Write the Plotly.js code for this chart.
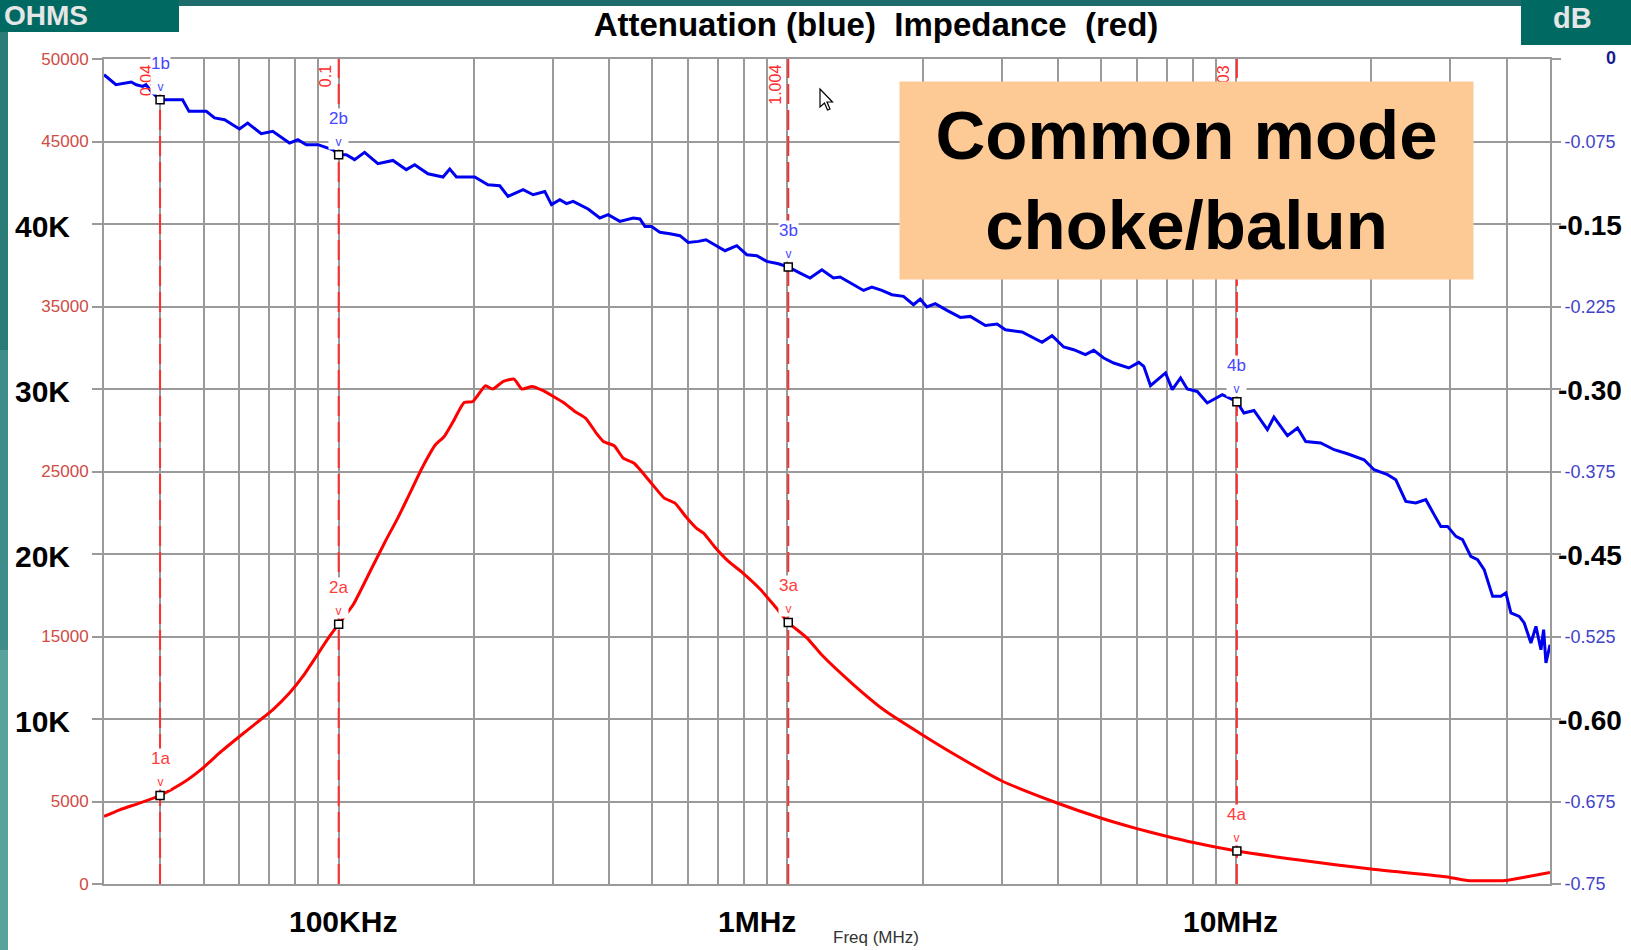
<!DOCTYPE html>
<html>
<head>
<meta charset="utf-8">
<script src="https://cdn.plot.ly/plotly-3.0.1.min.js"></script>
<style>html,body{margin:0;padding:0;background:#fff;}#chart{width:1631px;height:950px;}</style>
</head>
<body>
<div id="chart"></div>
<script>
// ---------- data ----------
const freqBlue = [0.0300,0.0319,0.0345,0.0354,0.0366,0.0372,0.0385,0.0400,0.0449,0.0464,0.0507,0.0529,0.0557,0.0601,0.0627,0.0672,0.0713,0.0777,0.0811,0.0847,0.0899,0.0971,0.1000,0.1040,0.1085,0.1142,0.1223,0.1321,0.1415,0.1477,0.1581,0.1708,0.1768,0.1830,0.2010,0.2151,0.2285,0.2384,0.2576,0.2712,0.2879,0.2980,0.3110,0.3219,0.3330,0.3596,0.3819,0.3985,0.4232,0.4531,0.4690,0.4812,0.4981,0.5198,0.5472,0.5759,0.6010,0.6327,0.6583,0.6896,0.7259,0.7708,0.8114,0.8542,0.8992,0.9544,1.004,1.067,1.123,1.193,1.266,1.310,1.391,1.477,1.542,1.623,1.709,1.813,1.909,1.976,2.045,2.134,2.267,2.427,2.555,2.760,2.931,3.058,3.331,3.536,3.691,3.886,4.125,4.342,4.611,4.812,5.065,5.333,5.761,6.063,6.222,6.439,6.955,7.200,7.513,7.776,8.185,8.616,9.307,10.03,10.40,10.95,11.73,12.13,13.00,13.69,14.28,15.42,16.52,17.69,19.26,20.28,21.73,22.67,23.86,25.12,26.44,27.59,28.56,29.56,30.85,31.92,33.31,34.48,35.67,37.25,38.87,39.87,40.91,42.70,43.80,45.34,46.52,47.73,48.39,48.97,50.00];
const attenDb = [-0.0143,-0.0234,-0.0209,-0.0234,-0.0249,-0.0234,-0.0309,-0.0370,-0.0370,-0.0476,-0.0476,-0.0536,-0.0552,-0.0636,-0.0582,-0.0679,-0.0658,-0.0764,-0.0734,-0.0779,-0.0779,-0.0825,-0.0870,-0.0870,-0.0915,-0.0849,-0.0952,-0.0922,-0.1006,-0.0961,-0.1043,-0.1073,-0.1000,-0.1073,-0.1073,-0.1143,-0.1152,-0.1249,-0.1188,-0.1234,-0.1204,-0.1324,-0.1279,-0.1315,-0.1294,-0.1364,-0.1445,-0.1415,-0.1476,-0.1445,-0.1454,-0.1522,-0.1522,-0.1576,-0.1588,-0.1606,-0.1667,-0.1658,-0.1643,-0.1688,-0.1743,-0.1697,-0.1779,-0.1788,-0.1840,-0.1861,-0.1891,-0.1946,-0.1991,-0.1916,-0.1991,-0.1982,-0.2043,-0.2104,-0.2073,-0.2104,-0.2143,-0.2158,-0.2234,-0.2182,-0.2254,-0.2224,-0.2285,-0.2349,-0.2340,-0.2422,-0.2409,-0.2461,-0.2482,-0.2536,-0.2576,-0.2515,-0.2618,-0.2643,-0.2688,-0.2649,-0.2718,-0.2764,-0.2809,-0.2758,-0.2794,-0.2970,-0.2854,-0.3006,-0.2900,-0.3000,-0.3022,-0.3127,-0.3052,-0.3115,-0.3218,-0.3195,-0.3370,-0.3255,-0.3424,-0.3354,-0.3477,-0.3491,-0.3552,-0.3589,-0.3643,-0.3734,-0.3779,-0.3825,-0.4022,-0.4036,-0.4006,-0.4142,-0.4249,-0.4249,-0.4340,-0.4370,-0.4522,-0.4551,-0.4642,-0.4885,-0.4885,-0.4854,-0.5036,-0.5067,-0.5127,-0.5309,-0.5158,-0.5370,-0.5188,-0.5491,-0.5325];

const freqRed = [0.0300,0.0325,0.0360,0.0400,0.0449,0.0498,0.0542,0.0601,0.0655,0.0713,0.0777,0.0832,0.0891,0.0954,0.1000,0.1077,0.1180,0.1270,0.1354,0.1418,0.1540,0.1643,0.1719,0.1800,0.1903,0.1991,0.2123,0.2203,0.2328,0.2459,0.2560,0.2695,0.2848,0.3009,0.3180,0.3359,0.3549,0.3749,0.3890,0.4110,0.4303,0.4546,0.4938,0.5314,0.5615,0.5932,0.6266,0.6503,0.6871,0.7390,0.7958,0.8718,0.9383,1.004,1.106,1.193,1.400,1.644,2.004,2.389,3.006,3.989,4.968,5.976,6.955,8.031,10.03,13.81,19.97,29.91,32.69,39.77,44.76,50.00];
const impOhms = [4091,4497,4903,5364,6116,7025,7934,8940,9752,10558,11570,12577,13789,15001,15750,16922,19044,20759,22177,23286,25305,26620,27123,28032,29184,29244,30196,29996,30457,30602,29996,30154,29911,29547,29148,28638,28238,27329,26820,26560,25814,25511,24396,23389,23086,22274,21571,21268,20456,19547,18844,17831,16819,15850,14904,13874,12104,10528,9019,7758,6243,4909,4012,3370,2909,2515,2000,1455,903,400,212,212,455,697];

const markerFreqs = [0.04, 0.1, 1.004, 10.03];
const markerFreqText = ['0.04', '0.1', '1.004', '10.03'];
const markerImp = [5364, 15750, 15850, 2000];
const markerDb = [-0.037, -0.087, -0.1891, -0.3115];
const markerImpNames = ['1a', '2a', '3a', '4a'];
const markerDbNames = ['1b', '2b', '3b', '4b'];

const freqGrid = [0.03,0.04,0.05,0.06,0.07,0.08,0.09,0.1,0.2,0.3,0.4,0.5,0.6,0.7,0.8,0.9,1,2,3,4,5,6,7,8,9,10,20,30,40,50];
const impTickVals = [0,5000,10000,15000,20000,25000,30000,35000,40000,45000,50000];
const impTickText = ['0','5000','','15000','','25000','','35000','','45000','50000'];
const bigImpVals = [10000,20000,30000,40000];
const bigImpText = ['10K','20K','30K','40K'];
const dbTickVals = [0,-0.075,-0.15,-0.225,-0.30,-0.375,-0.45,-0.525,-0.60,-0.675,-0.75];
const dbTickText = ['','-0.075','','-0.225','','-0.375','','-0.525','','-0.675','-0.75'];
const bigDbVals = [-0.15,-0.30,-0.45,-0.60];
const bigDbText = ['-0.15','-0.30','-0.45','-0.60'];
const freqLabelText = ['100KHz','1MHz','10MHz'];

// ---------- layout helpers ----------
const W = 1631, H = 950, ML = 104, MR = 81, MT = 59, MB = 66;
const PW = W - ML - MR, PH = H - MT - MB;
const PX = p => (p - ML) / PW;
const PY = p => (H - MB - p) / PH;
const FONT = 'Liberation Sans, Arial, sans-serif';
const GRID = '#9a9a9a';

const traces = [];
markerFreqs.forEach(f => {
  traces.push({x:[f,f], y:[0,50000], yaxis:'y', mode:'lines', type:'scatter',
    line:{color:'#ff2e2e', width:2, dash:'20px,6px'}, hoverinfo:'skip', showlegend:false});
});
traces.push({x:freqRed, y:impOhms, yaxis:'y', mode:'lines', type:'scatter',
  line:{color:'#ff0000', width:3, shape:'spline', smoothing:0.5}, hoverinfo:'skip', showlegend:false});
traces.push({x:freqBlue, y:attenDb, yaxis:'y2', mode:'lines', type:'scatter',
  line:{color:'#0000f0', width:3}, hoverinfo:'skip', showlegend:false});
traces.push({x:markerFreqs, y:markerImp, yaxis:'y', mode:'markers', type:'scatter',
  marker:{symbol:'square', size:8, color:'#ffffff', line:{color:'#000', width:1.5}}, hoverinfo:'skip', showlegend:false});
traces.push({x:markerFreqs, y:markerDb, yaxis:'y2', mode:'markers', type:'scatter',
  marker:{symbol:'square', size:8, color:'#ffffff', line:{color:'#000', width:1.5}}, hoverinfo:'skip', showlegend:false});

const shapes = [
  {type:'rect', xref:'paper', yref:'paper', x0:PX(0), x1:PX(W), y0:PY(6), y1:PY(0), fillcolor:'#1d6b6a', line:{width:0}},
  {type:'rect', xref:'paper', yref:'paper', x0:PX(0), x1:PX(179), y0:PY(32), y1:PY(0), fillcolor:'#006a62', line:{width:0}},
  {type:'rect', xref:'paper', yref:'paper', x0:PX(1521), x1:PX(W), y0:PY(45), y1:PY(0), fillcolor:'#006a62', line:{width:0}},
  {type:'rect', xref:'paper', yref:'paper', x0:PX(0), x1:PX(8), y0:PY(350), y1:PY(32), fillcolor:'#2b7b79', line:{width:0}},
  {type:'rect', xref:'paper', yref:'paper', x0:PX(0), x1:PX(8), y0:PY(650), y1:PY(350), fillcolor:'#3f8d8a', line:{width:0}},
  {type:'rect', xref:'paper', yref:'paper', x0:PX(0), x1:PX(8), y0:PY(H), y1:PY(650), fillcolor:'#59a19d', line:{width:0}}
];
// mouse cursor
(function(){
  const pts = [[0,0],[0,18],[4.5,14],[7.5,21],[10,20],[7,13],[12.5,13]];
  const ox = 820, oy = 89;
  const d = pts.map((p,i)=>(i?'L':'M')+PX(ox+p[0])+','+PY(oy+p[1])).join(' ')+' Z';
  shapes.push({type:'path', xref:'paper', yref:'paper', path:d, fillcolor:'#ffffff', line:{color:'#000', width:1.2}});
})();

const ann = [];
ann.push({xref:'paper', yref:'paper', x:PX(2), y:PY(15), xanchor:'left', yanchor:'middle', showarrow:false,
  text:'<b>OHMS</b>', font:{family:FONT, size:28, color:'#e6e6e6'}});
ann.push({xref:'paper', yref:'paper', x:PX(1572), y:PY(18), xanchor:'center', yanchor:'middle', showarrow:false,
  text:'<b>dB</b>', font:{family:FONT, size:29, color:'#e6e6e6'}});
// value labels at the top of the marker lines
markerFreqs.forEach((f,i) => {
  ann.push({xref:'x', yref:'paper', x:Math.log10(f), y:1, xanchor:'right', yanchor:'top', xshift:-3, yshift:-4,
    textangle:-90, showarrow:false, text:markerFreqText[i], font:{family:FONT, size:16, color:'#ff2a2a'}});
});
// marker labels
markerFreqs.forEach((f,i) => {
  ann.push({xref:'x', yref:'y2', x:Math.log10(f), y:markerDb[i], xanchor:'center', yanchor:'bottom', yshift:5,
    showarrow:false, bgcolor:'#ffffff', borderpad:0,
    text:markerDbNames[i]+'<br><span style="font-size:12px">v</span>', font:{family:FONT, size:17, color:'#4646ff'}});
  ann.push({xref:'x', yref:'y', x:Math.log10(f), y:markerImp[i], xanchor:'center', yanchor:'bottom', yshift:5,
    showarrow:false, bgcolor:'#ffffff', borderpad:0,
    text:markerImpNames[i]+'<br><span style="font-size:12px">v</span>', font:{family:FONT, size:17, color:'#ff3b3b'}});
});
// big axis labels
bigImpVals.forEach((v,i) => {
  ann.push({xref:'paper', yref:'y', x:PX(13), y:v, xanchor:'left', yanchor:'middle', yshift:-2, showarrow:false,
    text:'<b>'+bigImpText[i]+'</b>', font:{family:FONT, size:30, color:'#000'}});
});
bigDbVals.forEach((v,i) => {
  ann.push({xref:'paper', yref:'y2', x:PX(1556), y:v, xanchor:'left', yanchor:'middle', yshift:-1, showarrow:false,
    text:'<b>'+bigDbText[i]+'</b>', font:{family:FONT, size:28, color:'#000'}});
});
ann.push({xref:'paper', yref:'y2', x:PX(1618), y:0, xanchor:'right', yanchor:'middle', yshift:1, showarrow:false,
  text:'<b>0</b>', font:{family:FONT, size:18, color:'#1a1a90'}});
// frequency labels
const freqLabelPx = [343, 757, 1230];
freqLabelText.forEach((t,i) => {
  ann.push({xref:'paper', yref:'paper', x:PX(freqLabelPx[i]), y:PY(921), xanchor:'center', yanchor:'middle', showarrow:false,
    text:'<b>'+t+'</b>', font:{family:FONT, size:30, color:'#000'}});
});
ann.push({xref:'paper', yref:'paper', x:PX(876), y:PY(937), xanchor:'center', yanchor:'middle', showarrow:false,
  text:'Freq (MHz)', font:{family:FONT, size:17, color:'#333'}});
// orange note box (drawn last so it covers the 10.03 label)
ann.push({xref:'paper', yref:'paper', x:PX(1186.5), y:PY(180.5), xanchor:'center', yanchor:'middle', showarrow:false,
  width:573, height:197, borderpad:0, bgcolor:'#fdca96', valign:'middle', align:'center',
  text:'<b>Common mode<br>choke/balun</b>', font:{family:FONT, size:69, color:'#000'}});

const layout = {
  width:W, height:H,
  margin:{l:ML, r:MR, t:MT, b:MB, pad:0},
  paper_bgcolor:'#ffffff', plot_bgcolor:'#ffffff',
  showlegend:false,
  title:{text:'<b>Attenuation (blue)&nbsp; Impedance&nbsp; (red)</b>', xref:'container', yref:'container',
    x:876/W, y:1-24/H, xanchor:'center', yanchor:'middle', font:{family:FONT, size:33, color:'#000'}},
  xaxis:{type:'log', range:[Math.log10(0.03), Math.log10(50)], tickvals:freqGrid, showticklabels:false, ticks:'',
    showgrid:true, gridcolor:GRID, gridwidth:2, zeroline:false, showline:true, mirror:true, linecolor:GRID, linewidth:2,
    fixedrange:true},
  yaxis:{range:[0,50000], tickvals:impTickVals, ticktext:impTickText, ticks:'outside', ticklen:10, tickwidth:2, tickcolor:GRID,
    tickfont:{family:FONT, size:17, color:'#cf4b44'}, showgrid:true, gridcolor:GRID, gridwidth:2, zeroline:false,
    showline:true, mirror:true, linecolor:GRID, linewidth:2, fixedrange:true},
  yaxis2:{range:[-0.75,0], overlaying:'y', side:'right', tickvals:dbTickVals, ticktext:dbTickText, ticks:'outside',
    ticklen:10, tickwidth:2, tickcolor:GRID, tickfont:{family:FONT, size:18, color:'#4343c8'}, showgrid:false,
    zeroline:false, showline:false, fixedrange:true},
  shapes:shapes,
  annotations:ann
};

Plotly.newPlot('chart', traces, layout, {displayModeBar:false, staticPlot:true});
</script>
</body>
</html>
